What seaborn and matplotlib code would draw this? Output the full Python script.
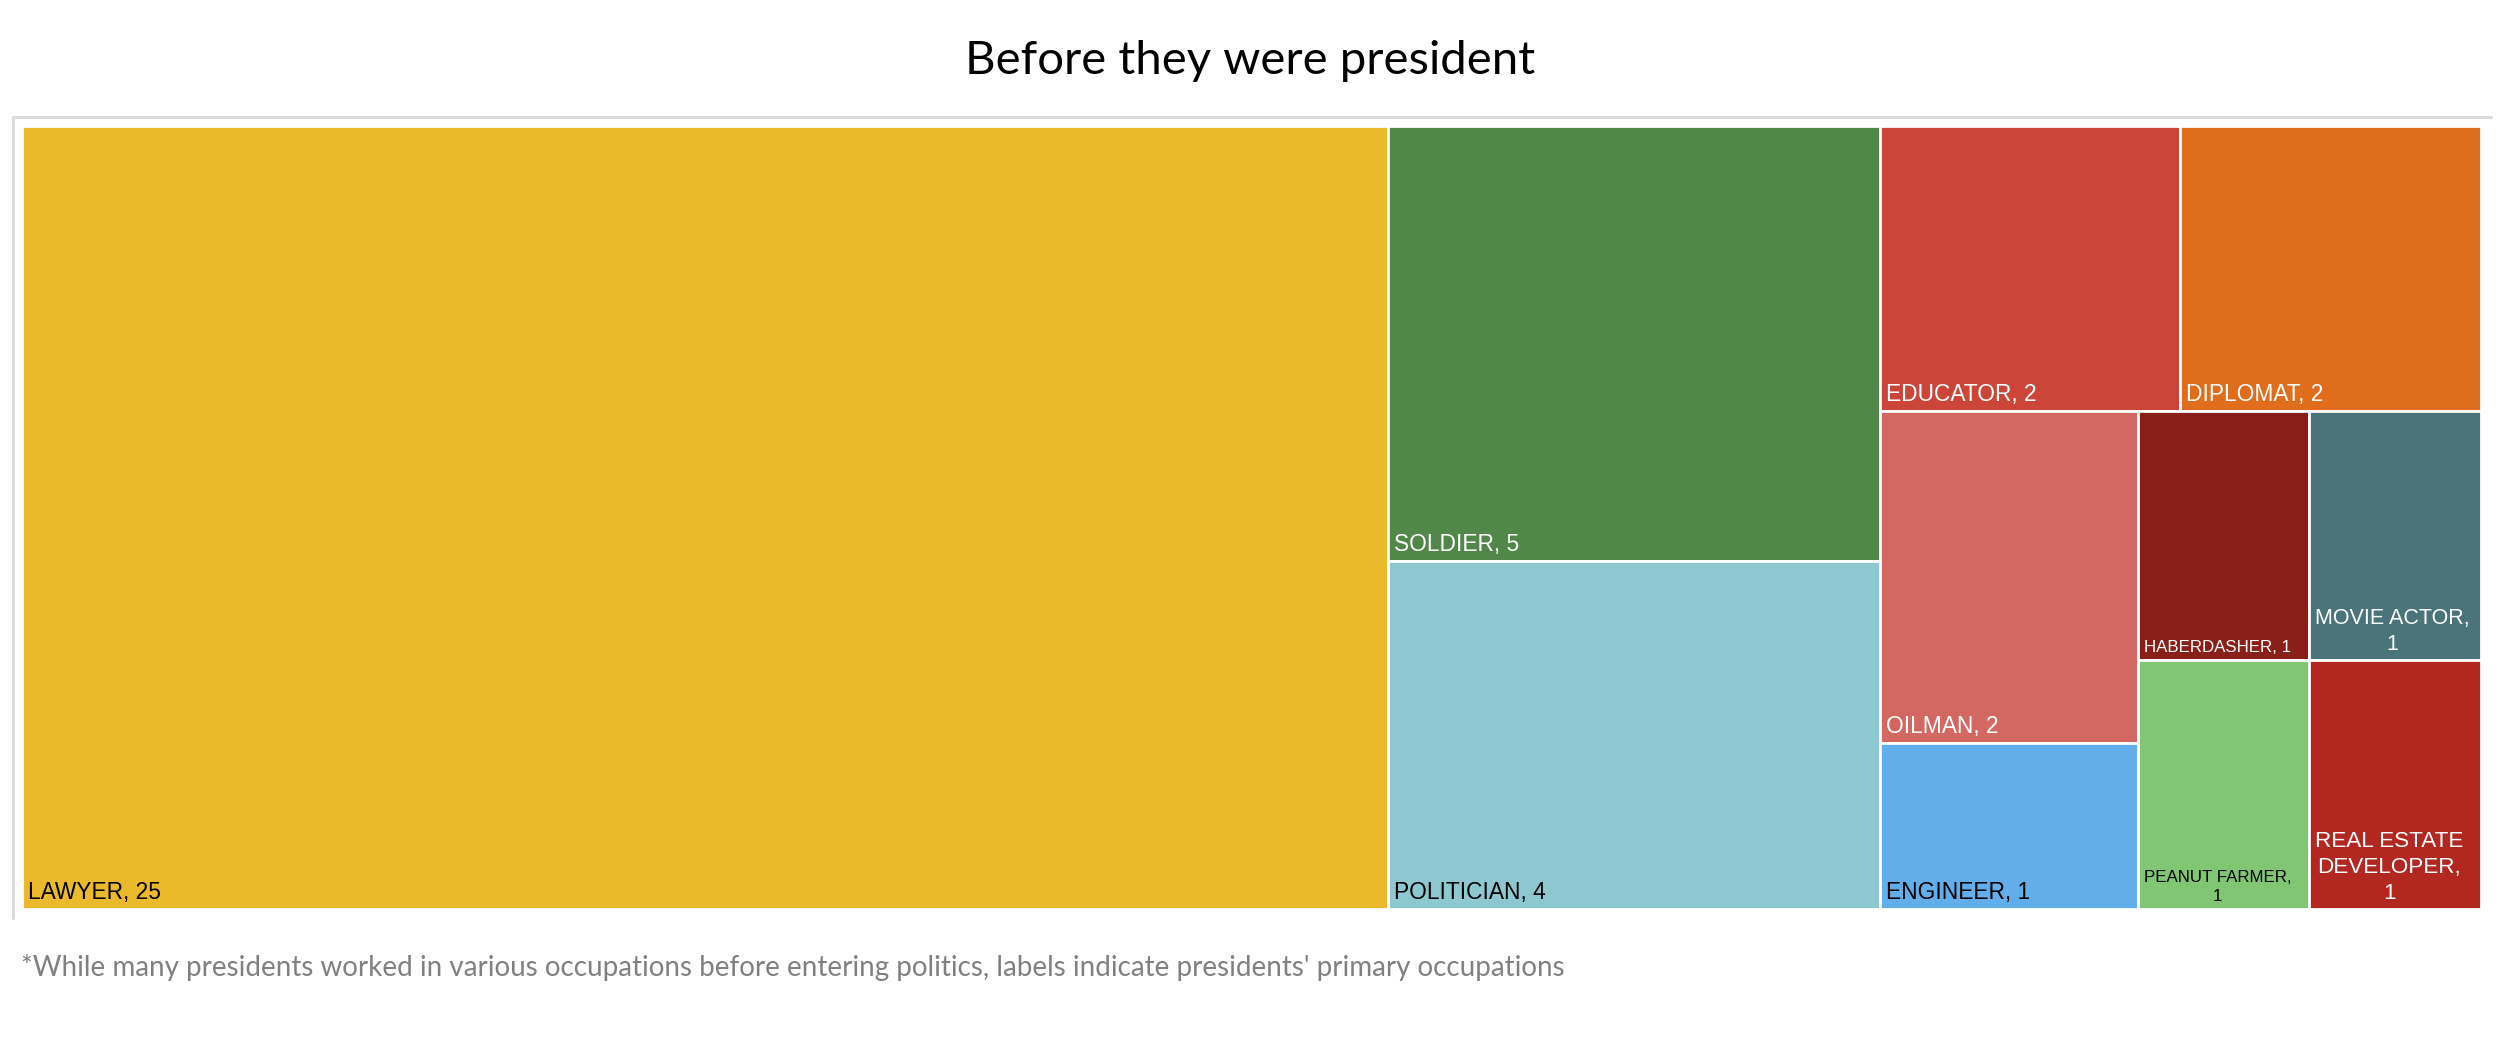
import matplotlib
matplotlib.use("Agg")
import matplotlib.pyplot as plt
from matplotlib.patches import Rectangle
from matplotlib.lines import Line2D
import seaborn as sns

# occupations, sorted by count (largest first)
occupations = ["LAWYER", "SOLDIER", "POLITICIAN", "EDUCATOR", "DIPLOMAT", "OILMAN",
               "ENGINEER", "HABERDASHER", "MOVIE ACTOR", "PEANUT FARMER",
               "REAL ESTATE DEVELOPER"]
counts = [25, 5, 4, 2, 2, 2, 1, 1, 1, 1, 1]
tile_colors = ["#EAB92C", "#52874A", "#8DC8D0", "#CB4539", "#E06D1B", "#D26861",
               "#62AEEA", "#881F19", "#4A7479", "#80C673", "#B22820"]
text_colors = ["black", "white", "black", "white", "white", "white",
               "black", "white", "white", "black", "white"]
# label text as shown in the tiles (small tiles wrap)
label_text = ["LAWYER, 25", "SOLDIER, 5", "POLITICIAN, 4", "EDUCATOR, 2", "DIPLOMAT, 2",
              "OILMAN, 2", "ENGINEER, 1", "HABERDASHER, 1", "MOVIE ACTOR,\n1",
              "PEANUT FARMER,\n1", "REAL ESTATE\nDEVELOPER,\n1"]
label_sizes = [16.4, 16.4, 16.4, 16.4, 16.4, 16.4, 16.4, 12.2, 15.5, 12.2, 16.2]

title = "Before they were president"
footnote = ("*While many presidents worked in various occupations before entering politics, "
            "labels indicate presidents' primary occupations")


# --- squarified treemap layout (Bruls et al.) ---
def layout_row(sizes, x, y, dx, dy):
    width = sum(sizes) / dy
    rects, off = [], 0
    for s in sizes:
        rects.append((x, y + off, width, s / width))
        off += s / width
    return rects


def layout_col(sizes, x, y, dx, dy):
    height = sum(sizes) / dx
    rects, off = [], 0
    for s in sizes:
        rects.append((x + off, y, s / height, height))
        off += s / height
    return rects


def layout(sizes, x, y, dx, dy):
    return layout_row(sizes, x, y, dx, dy) if dx >= dy else layout_col(sizes, x, y, dx, dy)


def leftover(sizes, x, y, dx, dy):
    if dx >= dy:
        w = sum(sizes) / dy
        return x + w, y, dx - w, dy
    h = sum(sizes) / dx
    return x, y + h, dx, dy - h


def worst(sizes, x, y, dx, dy):
    return max(max(w / h, h / w) for _, _, w, h in layout(sizes, x, y, dx, dy))


def squarify(sizes, x, y, dx, dy):
    if not sizes:
        return []
    if len(sizes) == 1:
        return layout(sizes, x, y, dx, dy)
    i = 1
    while i < len(sizes) and worst(sizes[:i], x, y, dx, dy) >= worst(sizes[:i + 1], x, y, dx, dy):
        i += 1
    return layout(sizes[:i], x, y, dx, dy) + squarify(sizes[i:], *leftover(sizes[:i], x, y, dx, dy))


sns.set_theme(style="white")
plt.rcParams["font.family"] = ["Liberation Sans", "DejaVu Sans"]

W_PX, H_PX = 2501, 1050
fig = plt.figure(figsize=(W_PX / 100, H_PX / 100), dpi=100)

# plot area in pixels
x0, y0, x1, y1 = 22, 126, 2481, 909
ax = fig.add_axes([x0 / W_PX, 1 - y1 / H_PX, (x1 - x0) / W_PX, (y1 - y0) / H_PX])
dx, dy = x1 - x0, y1 - y0
total = sum(counts)
areas = [c * dx * dy / total for c in counts]
rects = squarify(areas, 0, 0, dx, dy)

palette = sns.color_palette(tile_colors)
for (rx, ry, rw, rh), col, txt, tc, fs in zip(rects, palette, label_text, text_colors, label_sizes):
    ax.add_patch(Rectangle((rx, ry), rw, rh, facecolor=col, edgecolor="white", linewidth=2))
    ax.text(rx + 6, ry + rh - 5, txt, color=tc, fontsize=fs, ha="left", va="bottom",
            multialignment="center", linespacing=1.3,
            family=["Liberation Sans", "DejaVu Sans"])

ax.set_xlim(0, dx)
ax.set_ylim(dy, 0)
ax.axis("off")

# light frame on top and left
fig.add_artist(Line2D([13 / W_PX, 2491 / W_PX], [1 - 117 / H_PX] * 2, color="#dcdcdc", lw=2.2))
fig.add_artist(Line2D([13 / W_PX] * 2, [1 - 117 / H_PX, 1 - 918 / H_PX], color="#dcdcdc", lw=2.2))

fig.text(0.5, 1 - 61 / H_PX, title, ha="center", va="center", fontsize=34,
         family=["Lato", "DejaVu Sans"], color="black")
fig.text(21 / W_PX, 1 - 976 / H_PX, footnote, ha="left", va="baseline", fontsize=20,
         family=["Lato", "DejaVu Sans"], color="#808080")

fig.savefig("out.png", dpi=100)
